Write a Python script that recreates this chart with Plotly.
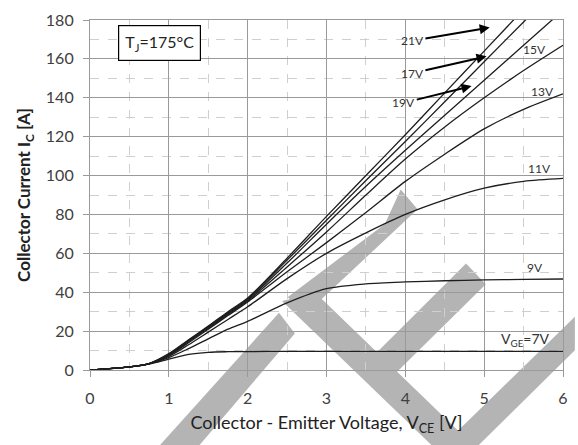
import plotly.graph_objects as go

# Output characteristic I_C = f(V_CE) at T_J = 175 °C for several gate voltages
vce = [0, 0.25, 0.5, 0.75, 1.0, 1.25, 1.5, 1.75, 2.0, 2.5, 3.0, 3.5, 4.0, 4.5, 5.0, 5.5, 6.0]

ic_7v = [0, 0.7, 1.6, 3.1, 5.6, 8.0, 9.1, 9.4, 9.5, 9.6, 9.6, 9.6, 9.6, 9.6, 9.6, 9.6, 9.6]
ic_9v = [0, 0.7, 1.6, 3.2, 6.4, 11.0, 16.0, 21.0, 25.0, 34.5, 41.8, 44.3, 45.3, 45.9, 46.3, 46.6, 46.8]
ic_11v = [0, 0.7, 1.6, 3.2, 7.0, 13.0, 19.5, 26.0, 32.5, 47.0, 60.0, 70.5, 80.0, 87.5, 93.5, 97.0, 98.5]
ic_13v = [0, 0.7, 1.6, 3.3, 7.5, 14.0, 21.0, 28.0, 35.0, 50.5, 65.5, 81.0, 97.0, 111.0, 124.0, 134.0, 142.0]
ic_15v = [0, 0.7, 1.6, 3.3, 7.8, 14.5, 21.5, 28.5, 35.5, 53.0, 71.0, 90.0, 108.5, 125.0, 140.0, 154.0, 167.0]
ic_17v = [0, 0.7, 1.6, 3.3, 8.0, 15.0, 22.0, 29.0, 36.0, 55.0, 75.0, 94.5, 113.0, 131.0, 149.0, 167.0, 185.0]
ic_19v = [0, 0.7, 1.6, 3.3, 8.2, 15.2, 22.3, 29.5, 36.5, 56.5, 77.0, 97.5, 117.5, 138.0, 158.5, 179.0, 199.0]
ic_21v = [0, 0.7, 1.6, 3.3, 8.4, 15.5, 22.6, 30.0, 37.0, 57.5, 79.0, 100.0, 121.0, 142.5, 164.0, 185.5, 207.0]

gate_names = ["7V", "9V", "11V", "13V", "15V", "17V", "19V", "21V"]
gate_curves = [ic_7v, ic_9v, ic_11v, ic_13v, ic_15v, ic_17v, ic_19v, ic_21v]

# Curve labels at the right-hand end of the curves: (text, V_CE, I_C, font size)
end_labels = [
    ("V<sub>GE</sub>=7V", 5.52, 15.7, 14),
    ("9V", 5.65, 52.7, 12),
    ("11V", 5.70, 103.5, 12),
    ("13V", 5.74, 143.0, 12),
    ("15V", 5.64, 165.0, 12),
]
# Labels with arrows: (text, label V, label I, tip V, tip I)
arrow_labels = [
    ("21V", 4.09, 169.4, 5.07, 176.1),
    ("17V", 4.09, 152.6, 5.03, 161.3),
    ("19V", 3.98, 137.4, 4.84, 146.0),
]

FONT = "Lato, 'Open Sans', sans-serif"

fig = go.Figure()
for name, ic in zip(gate_names, gate_curves):
    fig.add_trace(go.Scatter(
        x=vce, y=ic, name=name, mode="lines",
        line=dict(color="#1e1e1e", width=1.3, shape="spline", smoothing=0.8),
        showlegend=False, hoverinfo="skip",
    ))

# Gray watermark outline (page pixel geometry, converted to paper units)
L, R, T, B = 90, 568, 15, 370
def to_paper(pts):
    return " L ".join(f"{(px - L) / (R - L):.4f},{(B - py) / (B - T):.4f}" for px, py in pts)

watermark = [
    [(160, 447), (200, 447), (297, 333), (281, 312)],
    [(290, 296), (306, 315), (421, 207), (404, 187), (388, 222)],
    [(284, 300), (318, 292), (478, 447), (436, 447)],
    [(446, 447), (482, 447), (580, 350), (580, 316)],
    [(470, 262), (490, 283), (396, 376), (376, 356)],
]
shapes = []
for poly in watermark:
    shapes.append(dict(
        type="path", xref="paper", yref="paper", layer="below",
        path="M " + to_paper(poly) + " Z",
        fillcolor="rgb(180,180,180)", line=dict(width=0),
    ))

annotations = []
for text, x, y, size in end_labels:
    annotations.append(dict(
        x=x, y=y, xref="x", yref="y", text=text, showarrow=False,
        font=dict(family=FONT, size=size, color="#333333"),
    ))
for text, x, y, tx, ty in arrow_labels:
    annotations.append(dict(
        x=tx, y=ty, xref="x", yref="y", ax=x, ay=y, axref="x", ayref="y",
        text=text, showarrow=True, arrowhead=2, arrowsize=1, arrowwidth=2,
        arrowcolor="#000000", standoff=0, startstandoff=0,
        font=dict(family=FONT, size=12, color="#333333"),
    ))
annotations.append(dict(
    x=0.06, y=0.935, xref="paper", yref="paper", xanchor="left", yanchor="middle",
    text="T<sub>J</sub>=175°C", showarrow=False,
    font=dict(family=FONT, size=16, color="#222222"),
    bordercolor="#000000", borderwidth=1.2, borderpad=6, bgcolor="#ffffff",
))

axis_common = dict(
    showgrid=True, gridcolor="#9a9a9a", gridwidth=1.2,
    showline=True, linecolor="#9a9a9a", linewidth=1.2, mirror=True,
    ticks="outside", ticklen=6, tickcolor="#9a9a9a", tickwidth=1.2,
    zeroline=False,
    tickfont=dict(family=FONT, size=16, color="#404040"),
)

fig.update_layout(
    width=578, height=445,
    margin=dict(l=90, r=10, t=15, b=75),
    paper_bgcolor="#ffffff", plot_bgcolor="#ffffff",
    shapes=shapes, annotations=annotations,
    xaxis=dict(
        range=[0, 6], dtick=1, **axis_common,
        minor=dict(dtick=0.5, showgrid=True, gridcolor="#cfcfcf", griddash="dash", gridwidth=1),
        ticklabelstandoff=8,
        title=dict(text="Collector - Emitter Voltage, V<sub>CE</sub> [V]",
                   font=dict(family=FONT, size=18, color="#222222"), standoff=10),
    ),
    yaxis=dict(
        range=[0, 180], dtick=20, **axis_common,
        minor=dict(dtick=10, showgrid=True, gridcolor="#cfcfcf", griddash="dash", gridwidth=1),
        ticklabelstandoff=6,
        title=dict(text="<b>Collector Current I<sub>C</sub> [A]</b>",
                   font=dict(family=FONT, size=17, color="#222222"), standoff=10),
    ),
)

fig.write_html("out.html")
